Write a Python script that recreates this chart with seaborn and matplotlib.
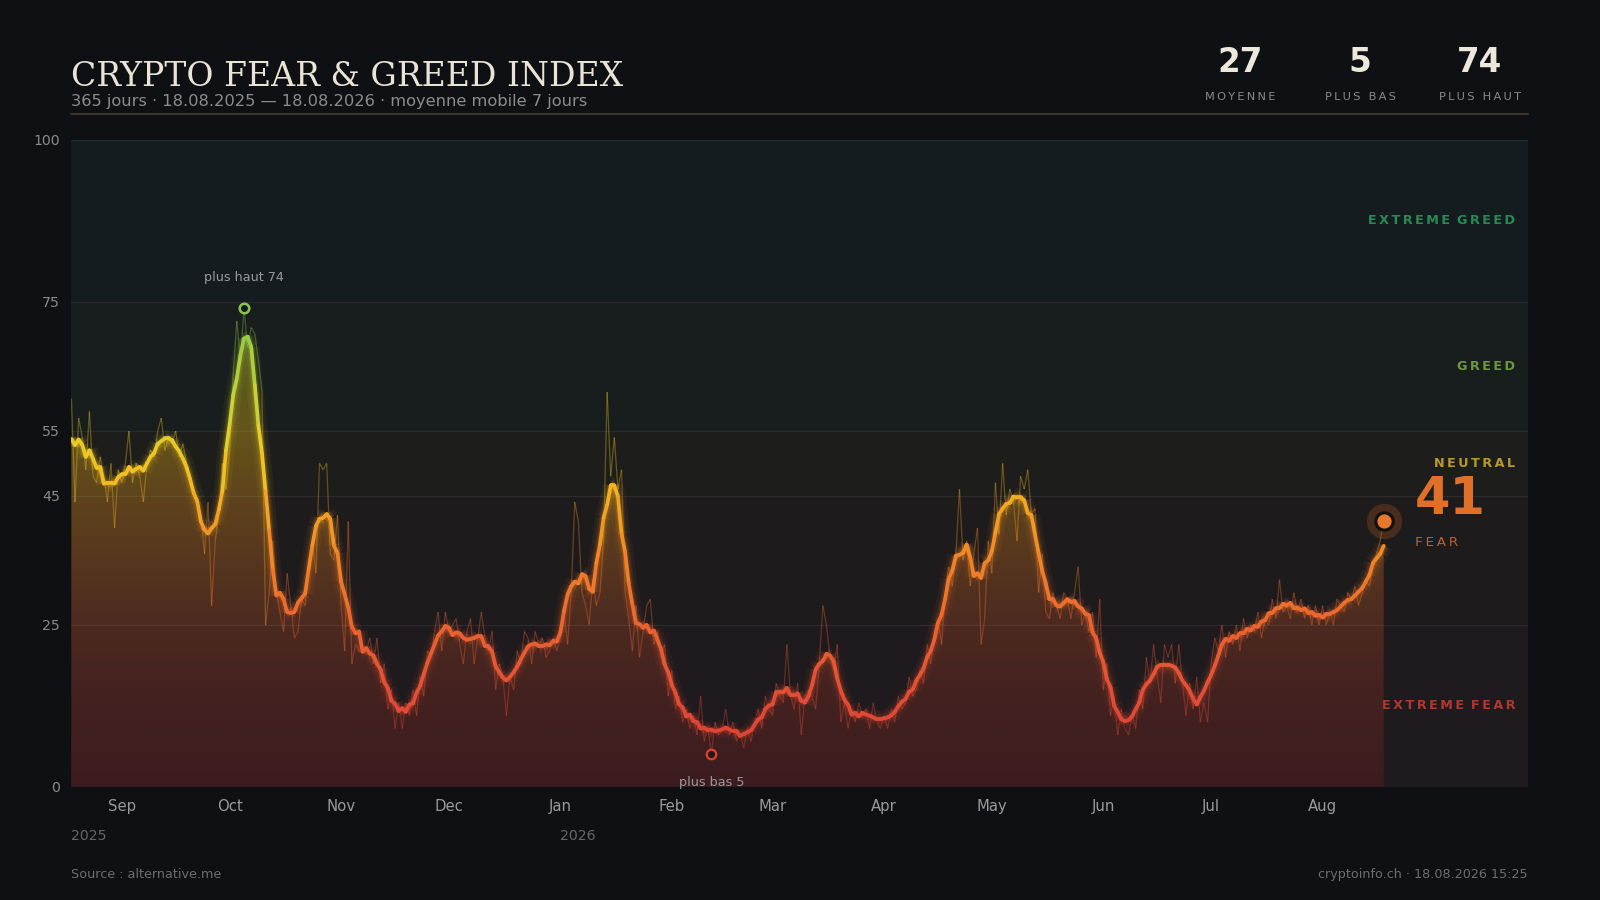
import numpy as np
import pandas as pd
import matplotlib
matplotlib.use("Agg")
import matplotlib.pyplot as plt
import matplotlib.dates as mdates
from matplotlib.collections import LineCollection
from matplotlib.colors import LinearSegmentedColormap, Normalize
from matplotlib.ticker import FixedLocator
import seaborn as sns

# daily Fear & Greed values, 18.08.2025 -> 18.08.2026
aug25 = [60, 44, 57, 54, 49, 58, 48, 47, 51, 48, 44, 50, 40, 49]
sep25 = [47, 50, 55, 47, 50, 48, 44, 50, 52, 51, 55, 57, 52, 54, 53,
         55, 51, 53, 50, 47, 46, 44, 42, 36, 44, 28, 38, 42, 50, 46]
oct25 = [52, 64, 72, 66, 74, 68, 71, 70, 66, 61, 25, 30, 38, 30, 27, 24,
         33, 28, 23, 24, 29, 28, 34, 38, 33, 50, 49, 50, 36, 35, 42]
nov25 = [28, 21, 41, 19, 22, 21, 21, 21, 23, 19, 23, 16, 19, 12, 15,
         9, 13, 9, 13, 11, 15, 11, 17, 14, 21, 20, 24, 27, 21, 27]
dec25 = [24, 25, 26, 22, 19, 24, 26, 19, 23, 27, 23, 21, 24, 15, 19, 17,
         11, 17, 15, 21, 19, 24, 23, 19, 24, 22, 23, 20, 21, 23, 21]
jan26 = [23, 27, 22, 30, 44, 41, 30, 28, 25, 32, 28, 30, 38, 61, 48, 54,
         46, 49, 30, 26, 21, 28, 20, 24, 28, 29, 22, 24, 20, 22, 14]
feb26 = [18, 12, 14, 10, 12, 9, 11, 8, 14, 7, 9, 5, 10, 8,
         9, 12, 8, 10, 7, 8, 6, 9, 7, 10, 12, 9, 14, 12]
mar26 = [11, 16, 14, 13, 22, 14, 12, 16, 8, 14, 15, 14, 12, 19, 28, 25,
         20, 18, 22, 10, 13, 9, 12, 10, 13, 11, 12, 9, 13, 10, 9]
apr26 = [11, 9, 12, 10, 14, 12, 13, 17, 14, 15, 18, 16, 22, 19, 24,
         26, 22, 30, 34, 31, 36, 46, 35, 38, 31, 36, 40, 22, 26, 38]
may26 = [33, 47, 39, 50, 42, 46, 44, 38, 48, 46, 49, 42, 43, 30, 36, 27,
         26, 30, 28, 26, 30, 29, 26, 30, 34, 25, 27, 24, 27, 20, 29]
jun26 = [15, 19, 11, 14, 8, 12, 9, 8, 11, 9, 15, 12, 20, 16, 22,
         17, 13, 22, 20, 22, 16, 22, 16, 11, 16, 12, 17, 10, 13, 10]
jul26 = [19, 23, 21, 25, 20, 24, 22, 25, 21, 26, 23, 25, 24, 27, 23, 26,
         25, 29, 26, 32, 27, 28, 26, 30, 27, 29, 26, 28, 25, 28, 25]
aug26 = [28, 25, 27, 25, 29, 28, 27, 30, 29, 31, 28, 30, 32, 31, 34, 36, 38, 41]

daily = aug25 + sep25 + oct25 + nov25 + dec25 + jan26 + feb26 + mar26 + apr26 + may26 + jun26 + jul26 + aug26

zone_edges = [0, 25, 45, 55, 75, 100]
zone_names = ["EXTREME FEAR", "FEAR", "NEUTRAL", "GREED", "EXTREME GREED"]
zone_bg = ["#1f1a1d", "#1e1b1d", "#1d1e1b", "#181d1d", "#141c1f"]
zone_fg = ["#b0392f", "#b8622e", "#b89a2c", "#6a9a3c", "#2a8a56"]
y_ticks = [0, 25, 45, 55, 75, 100]

df = pd.DataFrame({"date": pd.date_range("2025-08-18", periods=len(daily), freq="D"),
                   "value": daily})
df["ma7"] = df["value"].rolling(7, center=True, min_periods=1).mean()

# layout was measured on a 1568x882 view of the 1600x900 picture
W, H = 1568, 882
SC = 1600 / W

BG = "#0e1014"
sns.set_theme(style="dark")
plt.rcParams["font.family"] = ["DejaVu Sans"]

fig = plt.figure(figsize=(16, 9), dpi=100, facecolor=BG)
ax = fig.add_axes([70 / W, 1 - 771 / H, 1427 / W, 634 / H])
ax.set_facecolor("none")

xn = mdates.date2num(df["date"])
ma = df["ma7"].to_numpy()
raw = df["value"].to_numpy()

# zone bands
for lo, hi, c in zip(zone_edges[:-1], zone_edges[1:], zone_bg):
    ax.axhspan(lo, hi, color=c, lw=0, zorder=0)
for y in zone_edges[1:]:
    ax.axhline(y, color="#ffffff", alpha=0.07, lw=0.9, zorder=2.5)

# gradient area under the moving average
fill_cmap = LinearSegmentedColormap.from_list("fill", [
    (0.0, "#3c1c1f"), (0.15, "#44221f"), (0.25, "#4d2a20"), (0.35, "#57361e"),
    (0.45, "#5e441c"), (0.55, "#65541a"), (0.68, "#555a1c"), (1.0, "#2f5a30")])
grad = np.linspace(0, 1, 256).reshape(-1, 1)
im = ax.imshow(grad, cmap=fill_cmap, aspect="auto", origin="lower",
               extent=[xn[0], xn[-1], 0, 100], zorder=2, interpolation="bilinear")
poly = ax.fill_between(xn, ma, 0, color="none", lw=0)
im.set_clip_path(poly.get_paths()[0], transform=ax.transData)

line_cmap = LinearSegmentedColormap.from_list("fg", [
    (0.0, "#d63c2e"), (0.12, "#e04a36"), (0.25, "#eb6430"), (0.35, "#f08428"),
    (0.42, "#f2a024"), (0.48, "#f2be22"), (0.55, "#e2cf2c"), (0.62, "#bcd23a"),
    (0.70, "#98c844"), (0.80, "#5fb85a"), (1.0, "#2fa866")])
norm = Normalize(0, 100)


def segments(yv):
    pts = np.column_stack([xn, yv])
    return np.stack([pts[:-1], pts[1:]], axis=1), (yv[:-1] + yv[1:]) / 2


# raw daily line
segs, mids = segments(raw.astype(float))
lc = LineCollection(segs, cmap=line_cmap, norm=norm, lw=0.9 * SC, alpha=0.35, zorder=3)
lc.set_array(mids)
ax.add_collection(lc)

# moving average with glow
segs, mids = segments(ma)
for lw, a in [(12, 0.06), (7.5, 0.10), (4.8, 0.18)]:
    g = LineCollection(segs, cmap=line_cmap, norm=norm, lw=lw * SC, alpha=a,
                       capstyle="butt", zorder=4)
    g.set_array(mids)
    ax.add_collection(g)
main = LineCollection(segs, cmap=line_cmap, norm=norm, lw=2.6 * SC, capstyle="round",
                      joinstyle="round", zorder=5)
main.set_array(mids)
ax.add_collection(main)

# max / min markers
imax = int(df["value"].idxmax())
imin = int(df["value"].idxmin())
vmax, vmin = int(raw[imax]), int(raw[imin])
sns.scatterplot(x=[xn[imax]], y=[vmax], s=45 * SC ** 2, facecolor="#151a1a",
                edgecolor="#8bc34a", linewidth=1.8 * SC, zorder=7, ax=ax)
sns.scatterplot(x=[xn[imin]], y=[vmin], s=45 * SC ** 2, facecolor="#2a1618",
                edgecolor="#d9442e", linewidth=1.6 * SC, zorder=7, ax=ax)
ax.annotate(f"plus haut {vmax}", (xn[imax], vmax), xytext=(0, 21.5 * SC),
            textcoords="offset points", ha="center", va="center", color="#9a9a9a",
            fontsize=9 * SC, zorder=8)
ax.annotate(f"plus bas {vmin}", (xn[imin], vmin), xytext=(0, -20 * SC),
            textcoords="offset points", ha="center", va="center", color="#9a9a9a",
            fontsize=9 * SC, zorder=8)

# current value
last_x, last_v = xn[-1], int(raw[-1])
cur_zone = next(i for i in range(5) if zone_edges[i] <= last_v < zone_edges[i + 1])
sns.scatterplot(x=[last_x], y=[last_v], s=620 * SC ** 2, color="#e07028", alpha=0.22,
                linewidth=0, zorder=7, ax=ax)
sns.scatterplot(x=[last_x], y=[last_v], s=150 * SC ** 2, facecolor="#e8782c",
                edgecolor="#111111", linewidth=2.2 * SC, zorder=8, ax=ax)
ax.annotate(str(last_v), (last_x, last_v), xytext=(22 * SC, 15 * SC), textcoords="offset points",
            ha="left", va="center", color="#e07028", fontsize=36 * SC, fontweight="bold", zorder=8)


def spaced(s, gap="\u2009 "):
    return gap.join("\u2009".join(w) for w in s.split(" "))


ax.annotate(spaced(zone_names[cur_zone]), (last_x, last_v),
            xytext=(22 * SC, -14.5 * SC), textcoords="offset points", ha="left", va="center",
            color=zone_fg[cur_zone], fontsize=9.5 * SC, zorder=8)

# zone labels at right
for i, name in enumerate(zone_names):
    if i == cur_zone:
        continue
    ax.text(0.9916, (zone_edges[i] + zone_edges[i + 1]) / 2, spaced(name),
            transform=ax.get_yaxis_transform(), ha="right", va="center",
            color=zone_fg[i], fontsize=9 * SC, fontweight="bold", zorder=8)

# axes
ax.set_xlim(xn[0], xn[0] + 405)
ax.set_ylim(0, 100)
months = mdates.date2num(pd.date_range("2025-09-01", "2026-08-01", freq="MS"))
ax.xaxis.set_major_locator(FixedLocator(months))
ax.xaxis.set_major_formatter(mdates.DateFormatter("%b"))
ax.set_yticks(y_ticks)
ax.tick_params(axis="x", length=0, pad=9 * SC, colors="#9a9a9a", labelsize=10.5 * SC)
ax.tick_params(axis="y", length=0, pad=8 * SC, colors="#8a8a8a", labelsize=10 * SC)
ax.grid(False)
for s in ax.spines.values():
    s.set_visible(False)

xt = ax.get_xaxis_transform()
ax.text(xn[0], -0.0757, "2025", transform=xt, ha="left", va="center",
        color="#666666", fontsize=10 * SC)
ax.text(mdates.date2num(pd.Timestamp("2026-01-01")), -0.0757, "2026", transform=xt,
        ha="left", va="center", color="#666666", fontsize=10 * SC)

# header
fig.text(70 / W, 1 - 84 / H, "CRYPTO FEAR & GREED INDEX", family="DejaVu Serif",
         fontsize=23.3 * SC, color="#e9e4d6", ha="left", va="baseline")
fig.text(70 / W, 1 - 104 / H,
         "365 jours · 18.08.2025 — 18.08.2026 · moyenne mobile 7 jours",
         fontsize=11.5 * SC, color="#8c8c8c", ha="left", va="baseline")
fig.add_artist(plt.Line2D([70 / W, 1497 / W], [1 - 112 / H] * 2,
                          color="#3b3527", lw=1.5, transform=fig.transFigure))

stats = [(round(df["value"].mean()), "MOYENNE"), (vmin, "PLUS BAS"), (vmax, "PLUS HAUT")]
for cx, (num, lab) in zip([1215, 1333, 1450], stats):
    fig.text(cx / W, 1 - 61 / H, str(num), fontsize=23 * SC, fontweight="bold",
             color="#ece8dc", ha="center", va="center")
    fig.text(cx / W, 1 - 95 / H, spaced(lab, "\u2009 \u2009"), fontsize=8 * SC,
             color="#8a8a8a", ha="center", va="center")

# footer
fig.text(70 / W, 1 - 857 / H, "Source : alternative.me", fontsize=9 * SC,
         color="#6e6e6e", ha="left", va="center")
fig.text(1497 / W, 1 - 857 / H, "cryptoinfo.ch · 18.08.2026 15:25", fontsize=9 * SC,
         color="#6e6e6e", ha="right", va="center")

fig.savefig("out.png", dpi=100, facecolor=BG)
